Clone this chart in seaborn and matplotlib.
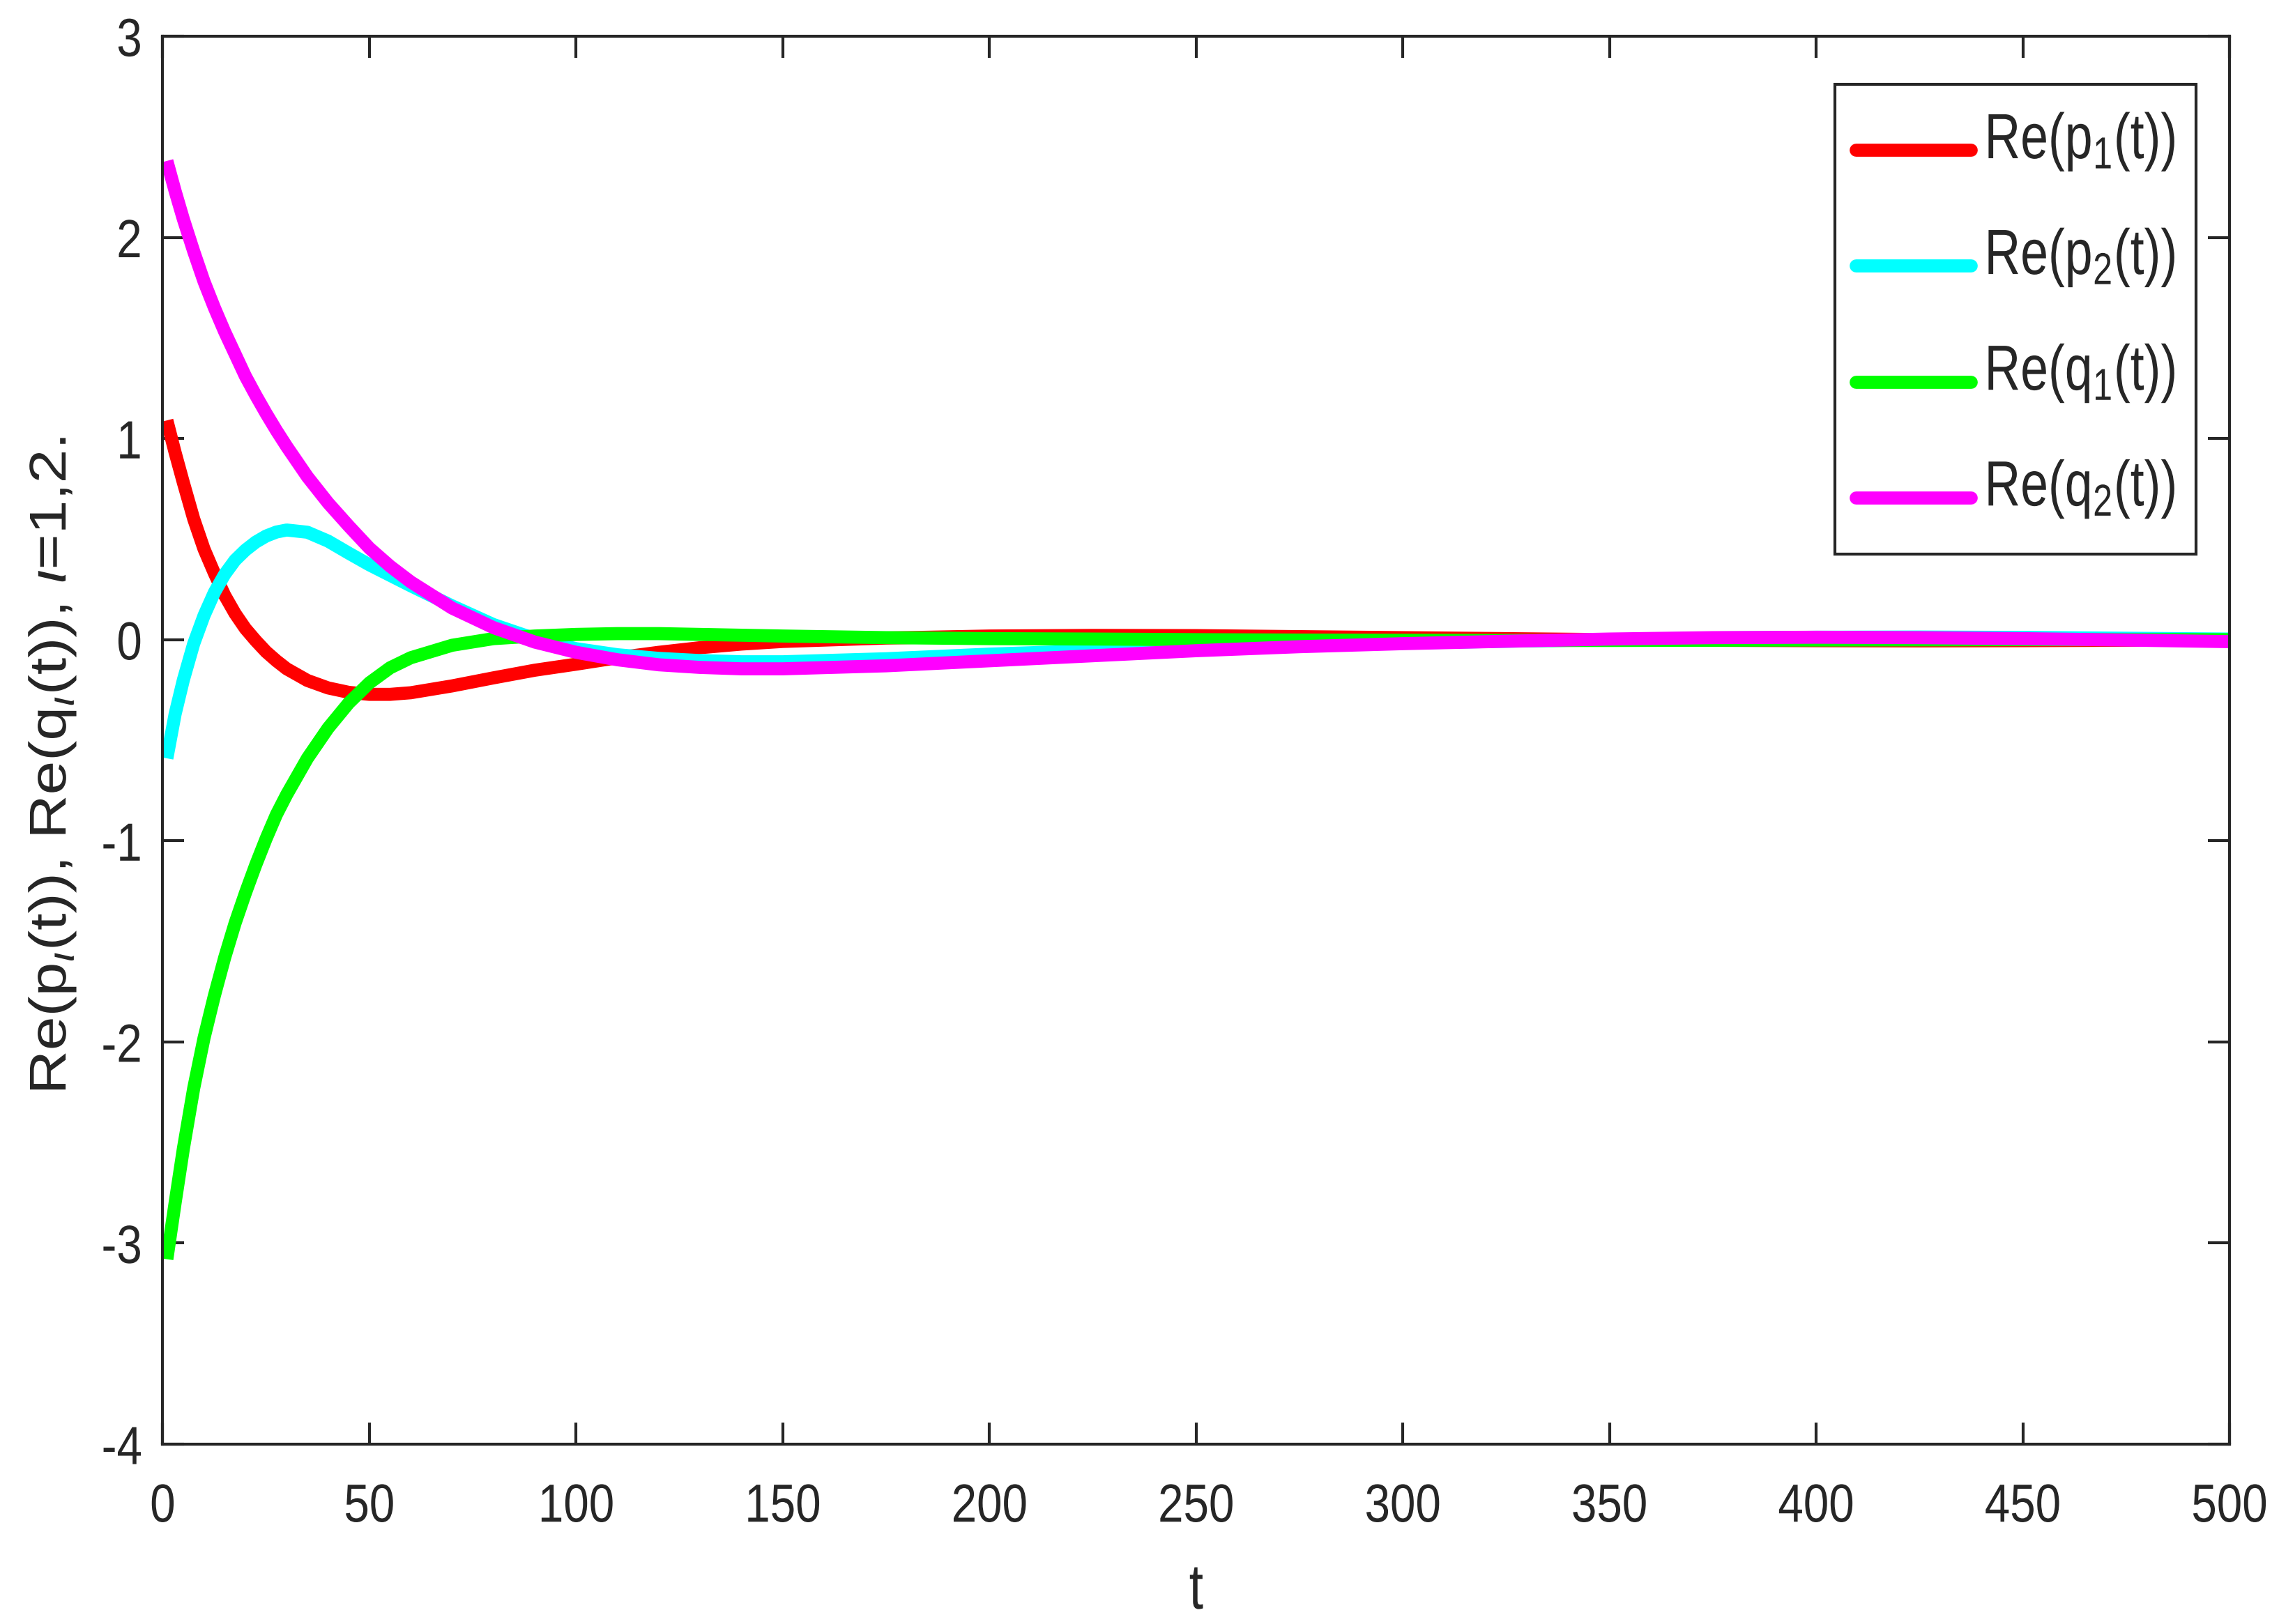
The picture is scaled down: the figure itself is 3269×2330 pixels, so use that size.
import matplotlib
matplotlib.use("Agg")
import matplotlib.pyplot as plt
from matplotlib import patheffects
from matplotlib.transforms import Affine2D
import pandas as pd
import seaborn as sns

# values
t = [1, 3, 5, 7.5, 10, 12.5, 15, 17.5, 20, 22.5, 25, 27.5, 30, 35, 40, 45,
     50, 55, 60, 70, 80, 90, 100, 110, 120, 130, 140, 150, 175, 200, 225,
     250, 275, 300, 325, 350, 375, 400, 425, 450, 475, 500]

re_p1 = [1.09, 0.93, 0.78, 0.60, 0.45, 0.33, 0.22, 0.13, 0.055, -0.005, -0.06,
         -0.105, -0.145, -0.203, -0.24, -0.262, -0.272, -0.272, -0.264, -0.23,
         -0.19, -0.152, -0.122, -0.09, -0.063, -0.04, -0.022, -0.009, 0.008,
         0.018, 0.021, 0.02, 0.015, 0.01, 0.005, 0.0, -0.003, -0.005, -0.006,
         -0.005, -0.003, 0.0]

re_p2 = [-0.59, -0.37, -0.20, -0.02, 0.12, 0.235, 0.325, 0.395, 0.445, 0.485,
         0.515, 0.535, 0.545, 0.534, 0.49, 0.43, 0.372, 0.32, 0.268, 0.168,
         0.075, 0.005, -0.045, -0.075, -0.093, -0.104, -0.11, -0.11, -0.095,
         -0.072, -0.055, -0.04, -0.027, -0.017, -0.008, 0.0, 0.008, 0.012,
         0.013, 0.011, 0.007, 0.003]

re_q1 = [-3.08, -2.80, -2.53, -2.23, -1.98, -1.77, -1.58, -1.41, -1.26, -1.12,
         -0.99, -0.87, -0.77, -0.59, -0.44, -0.315, -0.215, -0.14, -0.09,
         -0.028, 0.005, 0.018, 0.026, 0.03, 0.03, 0.026, 0.022, 0.018, 0.01,
         0.005, 0.003, 0.0, -0.002, -0.003, -0.004, -0.004, -0.003, -0.002,
         -0.001, 0.0, 0.0, 0.0]

re_q2 = [2.38, 2.23, 2.09, 1.93, 1.78, 1.65, 1.53, 1.42, 1.31, 1.215, 1.125,
         1.04, 0.96, 0.81, 0.68, 0.565, 0.455, 0.365, 0.287, 0.157, 0.06,
         -0.012, -0.063, -0.1, -0.125, -0.138, -0.145, -0.145, -0.13, -0.105,
         -0.08, -0.055, -0.035, -0.02, -0.008, 0.003, 0.01, 0.012, 0.01, 0.005,
         -0.002, -0.01]

names = [r'Re(p$_1$(t))', r'Re(p$_2$(t))', r'Re(q$_1$(t))', r'Re(q$_2$(t))']
colors = ['#ff0000', '#00ffff', '#00ff00', '#ff00ff']

frames = []
for name, vals in zip(names, [re_p1, re_p2, re_q1, re_q2]):
    frames.append(pd.DataFrame({'t': t, 'value': vals, 'series': name}))
df = pd.concat(frames, ignore_index=True)


class Squeeze(patheffects.AbstractPathEffect):
    """narrow the glyphs like the squeezed MATLAB export"""
    def __init__(self, sx=1.0, sy=1.0, anchor='center', offset=(0, 0)):
        super().__init__(offset=offset)
        self.sx, self.sy, self.anchor = sx, sy, anchor

    def draw_path(self, renderer, gc, tpath, affine, rgbFace=None):
        if len(tpath.vertices) == 0:
            return
        ext = tpath.get_extents()
        if self.anchor == 'right':
            cx = ext.x1
        elif self.anchor == 'left':
            cx = ext.x0
        else:
            cx = (ext.x0 + ext.x1) / 2
        cy = ext.y0 if self.anchor == 'bottom' else 0
        tr = (Affine2D().translate(-cx, -cy).scale(self.sx, self.sy)
              .translate(cx, cy) + affine + self._offset_transform(renderer))
        renderer.draw_path(gc, tpath, tr, rgbFace)


sns.set_style('ticks')
plt.rcParams['font.family'] = ['Liberation Sans', 'DejaVu Sans']
plt.rcParams['mathtext.fontset'] = 'custom'
plt.rcParams['mathtext.rm'] = 'Liberation Sans'
plt.rcParams['mathtext.it'] = 'Liberation Sans:italic'
plt.rcParams['axes.unicode_minus'] = False

dark = '#262626'

fig = plt.figure(figsize=(3269 / 300, 2330 / 300), dpi=300)
ax = fig.add_axes([0.0714, 0.1107, 0.9069, 0.867])

sns.lineplot(data=df, x='t', y='value', hue='series', hue_order=names,
             palette=colors, linewidth=4.5, estimator=None, sort=False,
             ax=ax, legend=False, solid_joinstyle='round', solid_capstyle='butt')

ax.set_xlim(0, 500)
ax.set_ylim(-4, 3)
ax.set_xticks(range(0, 501, 50))
ax.set_yticks(range(-4, 4))

for s in ax.spines.values():
    s.set_visible(True)
    s.set_color(dark)
    s.set_linewidth(1.0)

ax.tick_params(axis='both', direction='in', length=7.5, width=1.0,
               colors=dark, labelsize=18.5, top=True, right=True)
ax.tick_params(axis='x', pad=13)
ax.tick_params(axis='y', pad=7)

ax.set_xlabel('t', fontsize=22, color=dark, labelpad=10,
              path_effects=[Squeeze(sx=0.8)])
ax.set_ylabel(r'Re(p$_\iota$(t)), Re(q$_\iota$(t)), $\iota$=1,2.',
              fontsize=21, color=dark, path_effects=[Squeeze(sy=0.85, anchor='bottom')])
ax.yaxis.set_label_coords(-0.041, 0.482)

handles = [plt.Line2D([], [], color=c, linewidth=4.5) for c in colors]
leg = ax.legend(handles, names, loc='upper right',
                bbox_to_anchor=(0.9838, 0.9658), borderaxespad=0,
                fontsize=22, frameon=True, fancybox=False, framealpha=1,
                edgecolor=dark, handlelength=1.8, handleheight=1.58,
                handletextpad=-0.62, labelspacing=0.54, borderpad=0.32)
leg.get_frame().set_linewidth(1.0)
for txt in leg.get_texts():
    txt.set_path_effects([Squeeze(sx=0.78, anchor='right', offset=(0, 2.7))])
for hl in leg.legend_handles:
    hl.set_path_effects([Squeeze(offset=(0, -5))])

fig.canvas.draw()
for lab in ax.get_xticklabels():
    lab.set_path_effects([Squeeze(sx=0.85)])
for lab in ax.get_yticklabels():
    lab.set_path_effects([Squeeze(sx=0.85, anchor='right')])

fig.savefig('out.png', dpi=300, facecolor='white')
